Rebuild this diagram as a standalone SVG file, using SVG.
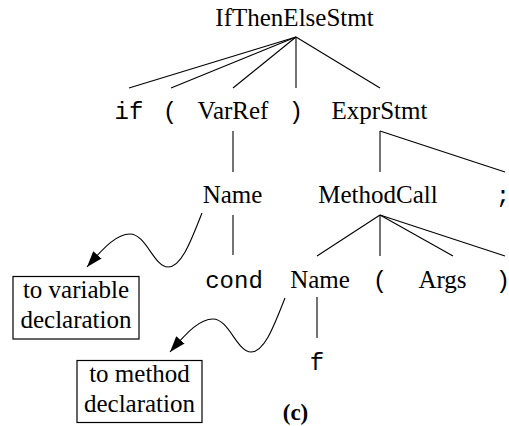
<svg xmlns="http://www.w3.org/2000/svg" width="509" height="426" viewBox="0 0 509 426">
<style>
.t{font-family:"Liberation Serif","Times New Roman",serif;font-size:25px;fill:#000;text-anchor:middle}
.m{font-family:"Liberation Mono","Courier New",monospace;font-size:24px;fill:#000;text-anchor:middle}
.b{font-family:"Liberation Serif","Times New Roman",serif;font-size:23px;font-weight:bold;fill:#000;text-anchor:middle}
.e{stroke:#000;stroke-width:1.1;fill:none}
.box{stroke:#000;stroke-width:1.2;fill:#fff}
</style>
<defs>
<marker id="ah" markerUnits="userSpaceOnUse" markerWidth="18" markerHeight="12" refX="16" refY="5.5" orient="auto">
<path d="M0,0 L16,5.5 L0,11 z" fill="#000"/>
</marker>
</defs>
<g id="connectors">
<line class="e" x1="296" y1="37" x2="129" y2="88"/>
<line class="e" x1="296" y1="37" x2="171" y2="88"/>
<line class="e" x1="296" y1="37" x2="233" y2="88"/>
<line class="e" x1="296" y1="37" x2="296" y2="88"/>
<line class="e" x1="296" y1="37" x2="380" y2="88"/>
<line class="e" x1="233" y1="131" x2="233" y2="172"/>
<line class="e" x1="380" y1="131" x2="380" y2="172"/>
<line class="e" x1="380" y1="131" x2="505" y2="172"/>
<line class="e" x1="233" y1="215" x2="233" y2="255"/>
<line class="e" x1="380" y1="215" x2="317" y2="256"/>
<line class="e" x1="380" y1="215" x2="380" y2="256"/>
<line class="e" x1="380" y1="215" x2="453" y2="256"/>
<line class="e" x1="380" y1="215" x2="505" y2="256"/>
<line class="e" x1="317" y1="297" x2="317" y2="338"/>
<path class="e" marker-end="url(#ah)" d="M202,213 C192,238 182,267 168,267 C154,267 146,234 130,234 C117,234 105,246 87,267"/>
<path class="e" marker-end="url(#ah)" d="M285,298 C275,323 265,352 251,352 C237,352 229,319 213,319 C200,319 188,331 170,352"/>
</g>
<g id="IfThenElseStmt"><text class="t" x="294.5" y="26">IfThenElseStmt</text></g>
<g id="if"><text class="m" x="129" y="119">if</text></g>
<g id="lparen1"><text class="m" x="170" y="119">(</text></g>
<g id="VarRef"><text class="t" x="233" y="119">VarRef</text></g>
<g id="rparen1"><text class="m" x="296" y="119">)</text></g>
<g id="ExprStmt"><text class="t" x="379.5" y="119">ExprStmt</text></g>
<g id="Name1"><text class="t" x="232.5" y="203">Name</text></g>
<g id="MethodCall"><text class="t" x="378" y="203">MethodCall</text></g>
<g id="semicolon"><text class="m" x="503" y="203">;</text></g>
<g id="cond"><text class="m" x="234" y="288">cond</text></g>
<g id="Name2"><text class="t" x="320" y="288">Name</text></g>
<g id="lparen2"><text class="m" x="380" y="288">(</text></g>
<g id="Args"><text class="t" x="442.5" y="288">Args</text></g>
<g id="rparen2"><text class="m" x="503" y="288">)</text></g>
<g id="f"><text class="m" x="317" y="370">f</text></g>
<g id="varDecl">
<rect class="box" x="13" y="276.5" width="126" height="62.5"/>
<text class="t" x="76" y="298">to variable</text>
<text class="t" x="76" y="328">declaration</text>
</g>
<g id="methodDecl">
<rect class="box" x="77" y="360.5" width="125" height="62"/>
<text class="t" x="139.5" y="382">to method</text>
<text class="t" x="139.5" y="412">declaration</text>
</g>
<g id="caption"><text class="b" x="295.5" y="420">(c)</text></g>
</svg>
